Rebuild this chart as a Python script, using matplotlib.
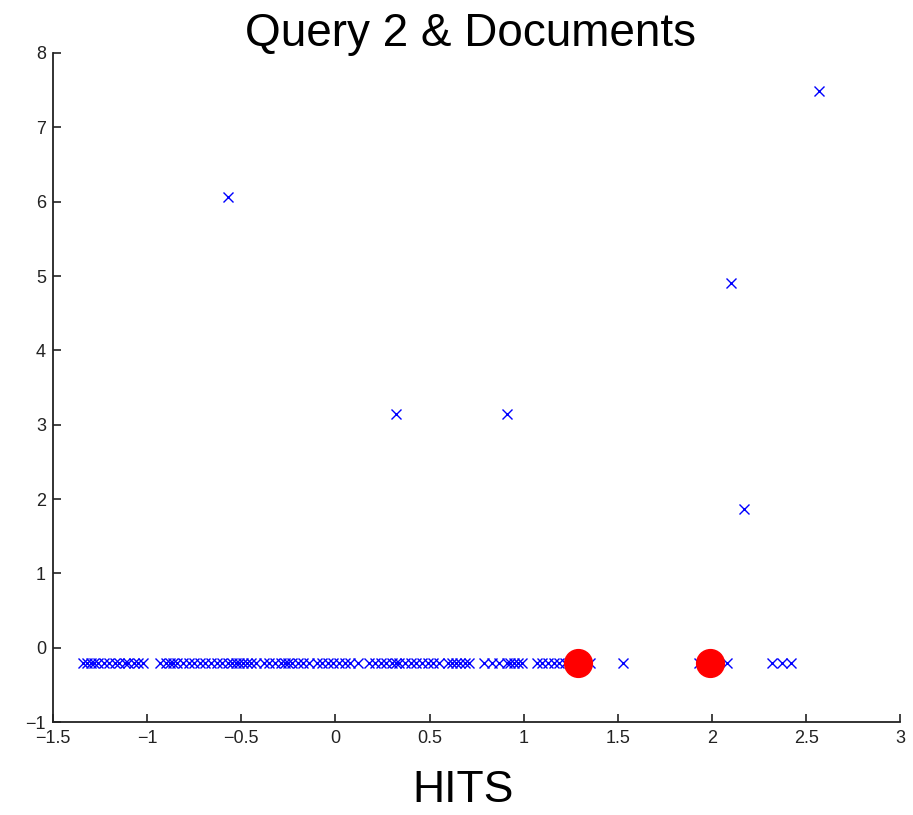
import matplotlib
matplotlib.use("Agg")
import matplotlib.pyplot as plt

plt.rcParams["font.family"] = ["Liberation Sans", "DejaVu Sans"]

# documents off the baseline
doc_x = [-0.57, 0.32, 0.91, 2.10, 2.17, 2.57]
doc_y = [6.06, 3.14, 3.14, 4.90, 1.86, 7.49]

# documents on the baseline (y = -0.2)
row_x = [-1.34, -1.32, -1.30, -1.28, -1.26, -1.23, -1.20, -1.17, -1.15, -1.12,
         -1.10, -1.07, -1.05, -1.02,
         -0.93, -0.90, -0.88, -0.86, -0.84, -0.81, -0.78, -0.75, -0.72, -0.69,
         -0.66, -0.63, -0.60, -0.57, -0.55, -0.53, -0.51, -0.49, -0.47, -0.45, -0.42,
         -0.38, -0.35, -0.32, -0.29, -0.27, -0.25, -0.23, -0.20, -0.17, -0.14,
         -0.10, -0.07, -0.04, -0.01, 0.02, 0.05, 0.08, 0.12,
         0.18, 0.21, 0.24, 0.27, 0.30, 0.32, 0.34, 0.37, 0.40, 0.43, 0.46, 0.49,
         0.52, 0.55,
         0.60, 0.62, 0.64, 0.66, 0.69, 0.71,
         0.79, 0.83, 0.87, 0.91, 0.93, 0.95, 0.97, 0.99,
         1.07, 1.10, 1.13, 1.16, 1.19, 1.22, 1.25, 1.28, 1.31, 1.35,
         1.53, 1.93, 2.08, 2.32, 2.37, 2.42]
row_y = -0.2

# query points
query_x = [1.29, 1.99]
query_y = [-0.2, -0.2]

fig = plt.figure(figsize=(9.13, 8.15), dpi=100)
ax = fig.add_axes([0.058, 0.114, 0.928, 0.821])

ax.plot(row_x, [row_y] * len(row_x), "x", color="blue", markersize=7, markeredgewidth=1.0)
ax.plot(doc_x, doc_y, "x", color="blue", markersize=7, markeredgewidth=1.0)
ax.plot(query_x, query_y, "o", color="red", markersize=20)

ax.set_xlim(-1.5, 3)
ax.set_ylim(-1, 8)
ax.set_xticks([-1.5, -1, -0.5, 0, 0.5, 1, 1.5, 2, 2.5, 3])
ax.set_xticklabels(["\u22121.5", "\u22121", "\u22120.5", "0", "0.5", "1", "1.5", "2", "2.5", "3"])
ax.set_yticks(range(-1, 9))
ax.set_yticklabels(["\u22121"] + [str(i) for i in range(0, 9)])
ax.tick_params(direction="in", labelsize=13, length=6, width=1.2, colors="#222222")
ax.tick_params(axis="x", pad=6)
ax.tick_params(axis="y", pad=5)
for s in ["top", "right"]:
    ax.spines[s].set_visible(False)
for s in ["left", "bottom"]:
    ax.spines[s].set_linewidth(1.3)
    ax.spines[s].set_color("#222222")

fig.text(0.515, 0.958, "Query 2 & Documents", ha="center", va="center", fontsize=33)
fig.text(0.507, 0.03, "HITS", ha="center", va="center", fontsize=32)

fig.savefig("out.png", dpi=100)
